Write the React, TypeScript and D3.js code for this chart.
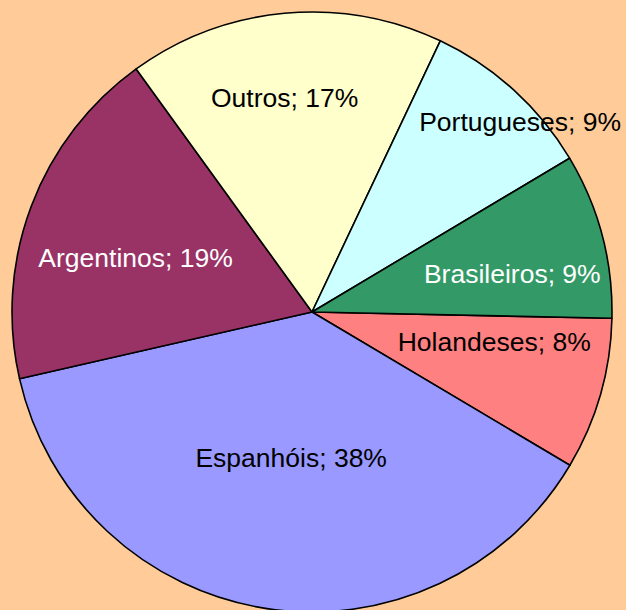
import React, { useEffect, useRef } from "react";
import * as d3 from "d3";

// slices in clockwise order, starting just below 3 o'clock
const categories = ["Holandeses", "Espanhóis", "Argentinos", "Outros", "Portugueses", "Brasileiros"];
const values = [8.2, 37.9, 18.6, 17.0, 9.4, 8.9];
const colors = ["#FF8080", "#9999FF", "#993366", "#FFFFCC", "#CCFFFF", "#339966"];
const labelColors = ["#000", "#000", "#fff", "#000", "#000", "#fff"];

// label placement: [radius fraction, angle nudge in degrees]
const labelPlace: Record<string, [number, number]> = {
  Holandeses: [0.615, -6.9],
  "Espanhóis": [0.49, -0.8],
  Argentinos: [0.615, -3.6],
  Outros: [0.72, -2],
  Portugueses: [0.94, 5.3],
  Brasileiros: [0.68, 3.9],
};

const W = 626, H = 610;

export default function App() {
  const ref = useRef<SVGSVGElement>(null);

  useEffect(() => {
    const svg = d3.select(ref.current);
    svg.selectAll("*").remove();

    const cx = 312, cy = 312, r = 300;
    const start = (91.2 * Math.PI) / 180;

    svg.append("rect").attr("width", W).attr("height", H).attr("fill", "#FFCC99");

    const data = categories.map((c, i) => ({ name: c, value: values[i], i }));
    const total = d3.sum(values);

    const pie = d3.pie<any>()
      .sort(null)
      .value(d => d.value)
      .startAngle(start)
      .endAngle(start + 2 * Math.PI);

    const arc = d3.arc<any>().innerRadius(0).outerRadius(r);

    const g = svg.append("g").attr("transform", `translate(${cx}, ${cy})`);

    const arcs = pie(data);

    g.selectAll("path")
      .data(arcs)
      .join("path")
      .attr("d", arc)
      .attr("fill", d => colors[d.data.i])
      .attr("stroke", "#000")
      .attr("stroke-width", 1.6)
      .attr("stroke-linejoin", "round");

    g.selectAll("text")
      .data(arcs)
      .join("text")
      .attr("transform", d => {
        const [f, nudge] = labelPlace[d.data.name];
        const a = (d.startAngle + d.endAngle) / 2 + (nudge * Math.PI) / 180;
        const rr = f * r;
        return `translate(${Math.sin(a) * rr}, ${-Math.cos(a) * rr})`;
      })
      .attr("text-anchor", "middle")
      .attr("dy", "0.36em")
      .attr("font-family", "'Liberation Sans', Arial, sans-serif")
      .attr("font-size", 26.5)
      .attr("fill", d => labelColors[d.data.i])
      .text(d => `${d.data.name}; ${Math.round((d.data.value / total) * 100)}%`);
  }, []);

  return (
    <>
      <style>{"body{margin:0}"}</style>
      <svg ref={ref} width={W} height={H} style={{ display: "block" }}></svg>
    </>
  );
}
